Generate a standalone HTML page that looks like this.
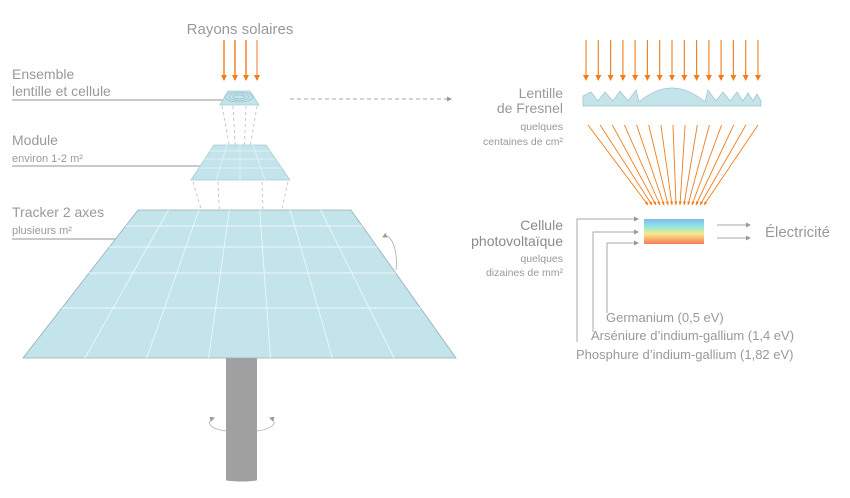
<!DOCTYPE html>
<html><head><meta charset="utf-8"><style>
html,body{margin:0;padding:0;background:#fff;width:850px;height:498px;overflow:hidden}
svg text{font-family:"Liberation Sans",sans-serif;fill:#999}
</style></head><body>
<svg width="850" height="498" viewBox="0 0 850 498" xmlns="http://www.w3.org/2000/svg">
<defs>
<marker id="ao" markerWidth="6" markerHeight="6" refX="5" refY="3" orient="auto" markerUnits="userSpaceOnUse"><path d="M0,0 L6,3 L0,6 z" fill="#f07d1a"/></marker>
<marker id="ao2" markerWidth="4" markerHeight="4" refX="3.5" refY="2" orient="auto" markerUnits="userSpaceOnUse"><path d="M0,0.5 L4,2 L0,3.5 z" fill="#f07d1a"/></marker>
<marker id="ag2" markerWidth="5" markerHeight="5" refX="4" refY="2.5" orient="auto" markerUnits="userSpaceOnUse"><path d="M0,0 L5,2.5 L0,5 z" fill="#999"/></marker>
<linearGradient id="rb" x1="0" y1="0" x2="0" y2="1">
<stop offset="0" stop-color="#7fb8f0"/><stop offset="0.3" stop-color="#8ee8e0"/><stop offset="0.6" stop-color="#f8e88a"/><stop offset="1" stop-color="#f57a55"/>
</linearGradient>
</defs>

<text x="240" y="34" font-size="15" text-anchor="middle">Rayons solaires</text>
<g stroke="#f07d1a" stroke-width="1.4" marker-end="url(#ao)">
<line x1="224" y1="40" x2="224" y2="80"/><line x1="235" y1="40" x2="235" y2="80"/>
<line x1="246" y1="40" x2="246" y2="80"/><line x1="257" y1="40" x2="257" y2="80" stroke="#f5a060"/>
</g>

<text x="12" y="79" font-size="14">Ensemble</text>
<text x="12" y="96" font-size="14">lentille et cellule</text>
<line x1="12" y1="100" x2="224" y2="100" stroke="#aaa" stroke-width="1.2"/>
<text x="12" y="145" font-size="14">Module</text>
<text x="12" y="162" font-size="11">environ 1-2 m²</text>
<line x1="12" y1="166" x2="201" y2="166" stroke="#aaa" stroke-width="1.2"/>
<text x="12" y="217" font-size="14">Tracker 2 axes</text>
<text x="12" y="234" font-size="11">plusieurs m²</text>
<line x1="12" y1="239" x2="116" y2="239" stroke="#aaa" stroke-width="1.2"/>

<path d="M228,91 L250,91 L259,105 L220,105 z" fill="#c2e4ea" stroke="#a8ccd4" stroke-width="0.8"/>
<g fill="none" stroke="#8fb8c2" stroke-width="0.6">
<ellipse cx="239" cy="97" rx="14" ry="5"/><ellipse cx="239" cy="97" rx="10" ry="3.5"/><ellipse cx="239" cy="97" rx="6" ry="2"/>
</g>
<g stroke="#bbb" stroke-width="0.8" stroke-dasharray="3,3" fill="none">
<line x1="222" y1="106" x2="232" y2="160"/><line x1="233" y1="106" x2="236" y2="160"/>
<line x1="246" y1="106" x2="244" y2="160"/><line x1="257" y1="106" x2="248" y2="160"/>
</g>
<path d="M214,145 L266,145 L290,180 L191,180 z" fill="#c2e4ea" stroke="#a8ccd4" stroke-width="0.8"/>
<g stroke="#eaf6f8" stroke-width="0.7">
<line x1="210" y1="151" x2="270" y2="151"/><line x1="205" y1="159" x2="275" y2="159"/><line x1="199" y1="168" x2="282" y2="168"/>
<line x1="227" y1="145" x2="216" y2="180"/><line x1="240" y1="145" x2="240" y2="180"/><line x1="253" y1="145" x2="265" y2="180"/>
</g>
<g stroke="#bbb" stroke-width="0.8" stroke-dasharray="3,3" fill="none">
<line x1="193" y1="182" x2="220" y2="272"/><line x1="218" y1="182" x2="222" y2="272"/>
<line x1="262" y1="182" x2="265" y2="272"/><line x1="288" y1="182" x2="268" y2="272"/>
</g>

<rect x="226" y="358" width="31" height="122" fill="#a0a0a0"/>
<ellipse cx="241.5" cy="480" rx="15.5" ry="1.5" fill="#a0a0a0"/>
<path d="M226,431 C205,428 208,420 214,418" fill="none" stroke="#aaa" stroke-width="0.8" marker-end="url(#ag2)"/>
<path d="M257,431 C278,428 276,420 270,418" fill="none" stroke="#aaa" stroke-width="0.8" marker-end="url(#ag2)"/>

<path d="M138,210 L351,210 L456,358 L23,358 z" fill="#c2e4ea" stroke="#9ab" stroke-width="0.8"/>
<g stroke="#eef8fa" stroke-width="0.9">
<line x1="125.6" y1="226" x2="362.4" y2="226"/><line x1="109.2" y1="247" x2="377.2" y2="247"/>
<line x1="89" y1="273" x2="395.7" y2="273"/><line x1="61.9" y1="308" x2="420.5" y2="308"/>
<line x1="168.4" y1="210" x2="84.9" y2="358"/><line x1="198.9" y1="210" x2="146.7" y2="358"/>
<line x1="229.3" y1="210" x2="208.6" y2="358"/><line x1="259.7" y1="210" x2="270.4" y2="358"/>
<line x1="290.1" y1="210" x2="332.3" y2="358"/><line x1="320.6" y1="210" x2="394.1" y2="358"/>
</g>
<path d="M396,270 C398,252 392,232 383,237" fill="none" stroke="#aaa" stroke-width="0.8" marker-end="url(#ag2)"/>

<line x1="290" y1="99" x2="451" y2="99" stroke="#aaa" stroke-width="1" stroke-dasharray="4,3" marker-end="url(#ag2)"/>

<g stroke="#f07d1a" stroke-width="1.1" marker-end="url(#ao)">
<line x1="586" y1="40" x2="586" y2="80"/><line x1="598.3" y1="40" x2="598.3" y2="80"/><line x1="610.6" y1="40" x2="610.6" y2="80"/>
<line x1="622.9" y1="40" x2="622.9" y2="80"/><line x1="635.1" y1="40" x2="635.1" y2="80"/><line x1="647.4" y1="40" x2="647.4" y2="80"/>
<line x1="659.7" y1="40" x2="659.7" y2="80"/><line x1="672" y1="40" x2="672" y2="80"/><line x1="684.3" y1="40" x2="684.3" y2="80"/>
<line x1="696.6" y1="40" x2="696.6" y2="80"/><line x1="708.9" y1="40" x2="708.9" y2="80"/><line x1="721.1" y1="40" x2="721.1" y2="80"/>
<line x1="733.4" y1="40" x2="733.4" y2="80"/><line x1="745.7" y1="40" x2="745.7" y2="80"/><line x1="758" y1="40" x2="758" y2="80"/>
</g>
<path d="M583,106 L583,96 L591,92 L598,101 L605,92 L613,101 L620,91 L628,101 L636,90 L639,102 Q672,74 705,102 L708,90 L716,101 L723,92 L730,101 L737,92 L743,101 L748,93 L753,101 L757,94 L761,101 L761,106 z" fill="#c2e4ea" stroke="#a8c4cc" stroke-width="0.8"/>
<g stroke="#f07d1a" stroke-width="0.9" marker-end="url(#ao2)">
<line x1="588" y1="125" x2="648" y2="205"/><line x1="600.1" y1="125" x2="652" y2="205"/><line x1="612.3" y1="125" x2="656" y2="205"/>
<line x1="624.4" y1="125" x2="660" y2="205"/><line x1="636.6" y1="125" x2="664" y2="205"/><line x1="648.7" y1="125" x2="668" y2="205"/>
<line x1="660.9" y1="125" x2="672" y2="205"/><line x1="673" y1="125" x2="676" y2="205"/><line x1="685.1" y1="125" x2="680" y2="205"/>
<line x1="697.3" y1="125" x2="684" y2="205"/><line x1="709.4" y1="125" x2="688" y2="205"/><line x1="721.6" y1="125" x2="692" y2="205"/>
<line x1="733.7" y1="125" x2="696" y2="205"/><line x1="745.9" y1="125" x2="700" y2="205"/><line x1="758" y1="125" x2="704" y2="205"/>
</g>

<g text-anchor="end">
<text x="563" y="98" font-size="14">Lentille</text>
<text x="563" y="113" font-size="14">de Fresnel</text>
<text x="563" y="130" font-size="10.5">quelques</text>
<text x="563" y="145" font-size="10.5">centaines de cm²</text>
<text x="563" y="230" font-size="14" style="fill:#8a8a8a">Cellule</text>
<text x="563" y="246" font-size="14" style="fill:#8a8a8a">photovoltaïque</text>
<text x="563" y="262" font-size="10.5">quelques</text>
<text x="563" y="276" font-size="10.5">dizaines de mm²</text>
</g>

<rect x="644" y="219" width="60" height="25" fill="url(#rb)"/>
<g stroke="#aaa" stroke-width="1" fill="none">
<path d="M577,342 L577,219 L638,219" marker-end="url(#ag2)"/>
<path d="M593,332 L593,232 L638,232" marker-end="url(#ag2)"/>
<path d="M607,313 L607,243 L638,243" marker-end="url(#ag2)"/>
<line x1="717" y1="225" x2="750" y2="225" marker-end="url(#ag2)"/>
<line x1="717" y1="238" x2="750" y2="238" marker-end="url(#ag2)"/>
</g>
<text x="765" y="237" font-size="15">Électricité</text>
<text x="606" y="322" font-size="13">Germanium (0,5 eV)</text>
<text x="591" y="340" font-size="13">Arséniure d’indium-gallium (1,4 eV)</text>
<text x="576" y="359" font-size="13">Phosphure d’indium-gallium (1,82 eV)</text>
</svg>
</body></html>
